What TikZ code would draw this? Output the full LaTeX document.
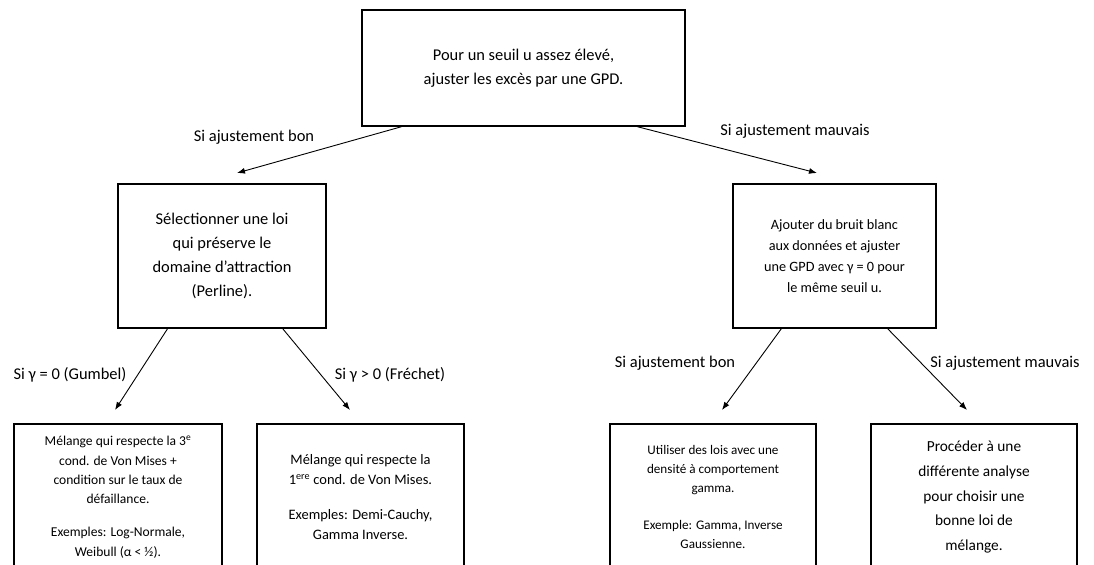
\documentclass[tikz,border=0pt]{standalone}
\usepackage{fontspec}
\setmainfont{Carlito}
\usetikzlibrary{arrows.meta,calc}
\begin{document}
\begin{tikzpicture}[x=1bp,y=-1bp,
  box/.style={draw,line width=1.4bp,rectangle,align=center,inner sep=0pt,anchor=center},
  conn/.style={line width=0.9bp,-{Latex[length=8bp,width=6bp]}},
  lab/.style={inner sep=0pt,anchor=center,font=\fontsize{16.5}{20}\selectfont}]
\useasboundingbox (0,0) rectangle (1094,565);
\fill[white] (0,0) rectangle (1094,565);
\begin{scope}
\clip (0,0) rectangle (1094,565);
\node[box,minimum width=323bp,minimum height=116bp,font=\fontsize{16.5}{24.5}\selectfont] (top) at (523.5,68)
  {Pour un seuil u assez élevé,\\ajuster les excès par une GPD.};
\node[box,minimum width=208bp,minimum height=144bp,font=\fontsize{16.5}{24.3}\selectfont] (midL) at (222,256)
  {Sélectionner une loi\\qui préserve le\\domaine d’attraction\\(Perline).};
\node[box,minimum width=203bp,minimum height=144bp,font=\fontsize{14.3}{21}\selectfont] (midR) at (834.5,256)
  {Ajouter du bruit blanc\\aux données et ajuster\\une GPD avec γ = 0 pour\\le même seuil u.};
\node[box,minimum width=208bp,minimum height=146bp,font=\fontsize{13.6}{19.3}\selectfont] (b1) at (118,497)
  {Mélange qui respecte la 3\textsuperscript{e}\\cond. de Von Mises +\\condition sur le taux de\\défaillance.\\[14bp]Exemples: Log-Normale,\\Weibull (α < ½).};
\node[box,minimum width=207bp,minimum height=146bp,font=\fontsize{14.5}{20}\selectfont] (b2) at (360.5,497)
  {Mélange qui respecte la\\1\textsuperscript{ere} cond. de Von Mises.\\[15bp]Exemples: Demi-Cauchy,\\Gamma Inverse.};
\node[box,minimum width=206bp,minimum height=146bp,font=\fontsize{13.2}{19}\selectfont] (b3) at (713,497)
  {Utiliser des lois avec une\\densité à comportement\\gamma.\\[18bp]Exemple: Gamma, Inverse\\Gaussienne.};
\node[box,minimum width=206bp,minimum height=146bp,font=\fontsize{15.4}{24.7}\selectfont] (b4) at (974,497)
  {Procéder à une\\différente analyse\\pour choisir une\\bonne loi de\\mélange.};
\end{scope}
\coordinate (t1) at (237,173);
\coordinate (t2) at (817,173);
\coordinate (t3) at (115,410);
\coordinate (t4) at (350,410);
\coordinate (t5) at (722,410);
\coordinate (t6) at (967,410);
\draw[conn] ($(top.south west)!0.124!(top.south east)$) -- (t1);
\draw[conn] ($(top.south west)!0.851!(top.south east)$) -- (t2);
\draw[conn] ($(midL.south west)!0.24!(midL.south east)$) -- (t3);
\draw[conn] ($(midL.south west)!0.79!(midL.south east)$) -- (t4);
\draw[conn] ($(midR.south west)!0.24!(midR.south east)$) -- (t5);
\draw[conn] ($(midR.south west)!0.76!(midR.south east)$) -- (t6);
\node[lab] (l1) at (254,137) {Si ajustement bon};
\node[lab] (l2) at (795,131) {Si ajustement mauvais};
\node[lab] (l3) at (70,375) {Si γ = 0 (Gumbel)};
\node[lab] (l4) at (390,375) {Si γ > 0 (Fréchet)};
\node[lab] (l5) at (675,363) {Si ajustement bon};
\node[lab] (l6) at (1005,363) {Si ajustement mauvais};
\end{tikzpicture}
\end{document}
